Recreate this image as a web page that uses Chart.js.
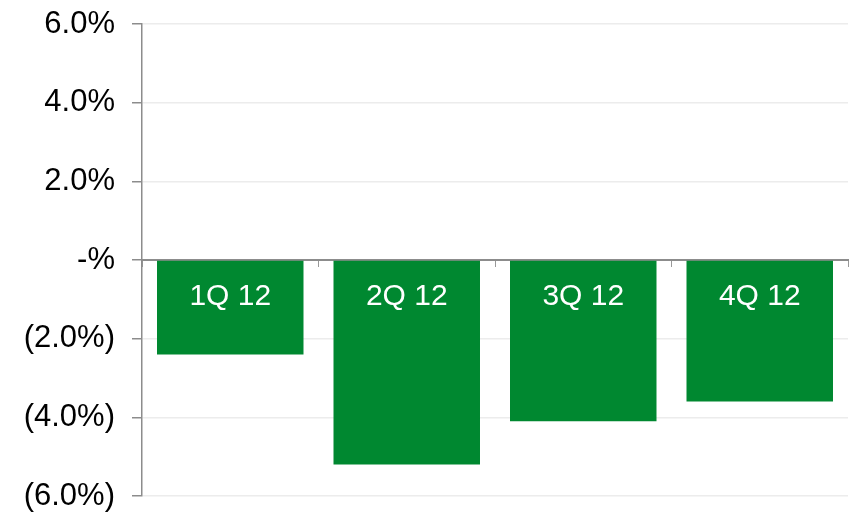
<!DOCTYPE html>
<html>
<head>
<meta charset="utf-8">
<script src="https://cdn.jsdelivr.net/npm/chart.js@4/dist/chart.umd.min.js"></script>
<style>
  html, body { margin: 0; padding: 0; background: #fff; }
  #wrap { width: 850px; height: 512px; }
</style>
</head>
<body>
<div id="wrap"><canvas id="qChart"></canvas></div>
<script>
const quarters = ['1Q 12', '2Q 12', '3Q 12', '4Q 12'];
const growth = [-2.4, -5.2, -4.1, -3.6];
const yTicks = [-6, -4, -2, 0, 2, 4, 6];

const fontFamily = '"Liberation Sans", Arial, sans-serif';

function fmtPct(v) {
    if (v === 0) return '-%';
    if (v < 0) return '(' + Math.abs(v).toFixed(1) + '%)';
    return v.toFixed(1) + '%';
}

// category names drawn in white just under the zero line
const barLabels = {
    id: 'barLabels',
    afterDatasetsDraw(chart) {
        const ctx = chart.ctx;
        const zeroY = chart.scales.y.getPixelForValue(0);
        const meta = chart.getDatasetMeta(0);
        ctx.save();
        ctx.fillStyle = '#ffffff';
        ctx.font = '30px ' + fontFamily;
        ctx.textAlign = 'center';
        ctx.textBaseline = 'middle';
        meta.data.forEach((bar, i) => {
            ctx.fillText(quarters[i], bar.x, zeroY + 37);
        });
        ctx.restore();
    }
};

const ctx = document.getElementById('qChart').getContext('2d');
new Chart(ctx, {
    type: 'bar',
    data: {
        labels: quarters,
        datasets: [{
            data: growth,
            backgroundColor: '#008830',
            borderWidth: 0,
            categoryPercentage: 1.0,
            barPercentage: 0.83
        }]
    },
    options: {
        responsive: true,
        maintainAspectRatio: false,
        animation: false,
        layout: { padding: { top: 24, right: 2, bottom: 16, left: 0 } },
        plugins: {
            legend: { display: false },
            tooltip: { enabled: false }
        },
        scales: {
            x: {
                position: { y: 0 },
                grid: {
                    offset: true,
                    drawOnChartArea: false,
                    drawTicks: true,
                    tickLength: 6,
                    color: '#999999'
                },
                border: { display: true, color: '#8c8c8c', width: 2 },
                ticks: { display: false }
            },
            y: {
                min: -6,
                max: 6,
                afterBuildTicks(scale) {
                    scale.ticks = yTicks.map(v => ({ value: v }));
                },
                afterFit(scale) {
                    scale.width = 142;
                    scale.paddingTop = 0;
                    scale.paddingBottom = 0;
                },
                grid: {
                    color: '#ececec',
                    tickColor: '#8c8c8c',
                    tickLength: 10,
                    lineWidth: 1.5
                },
                border: { display: true, color: '#8c8c8c', width: 1.5 },
                ticks: {
                    padding: 17,
                    color: '#000000',
                    font: { family: fontFamily, size: 31 },
                    callback: v => fmtPct(v)
                }
            }
        }
    },
    plugins: [barLabels]
});
</script>
</body>
</html>
